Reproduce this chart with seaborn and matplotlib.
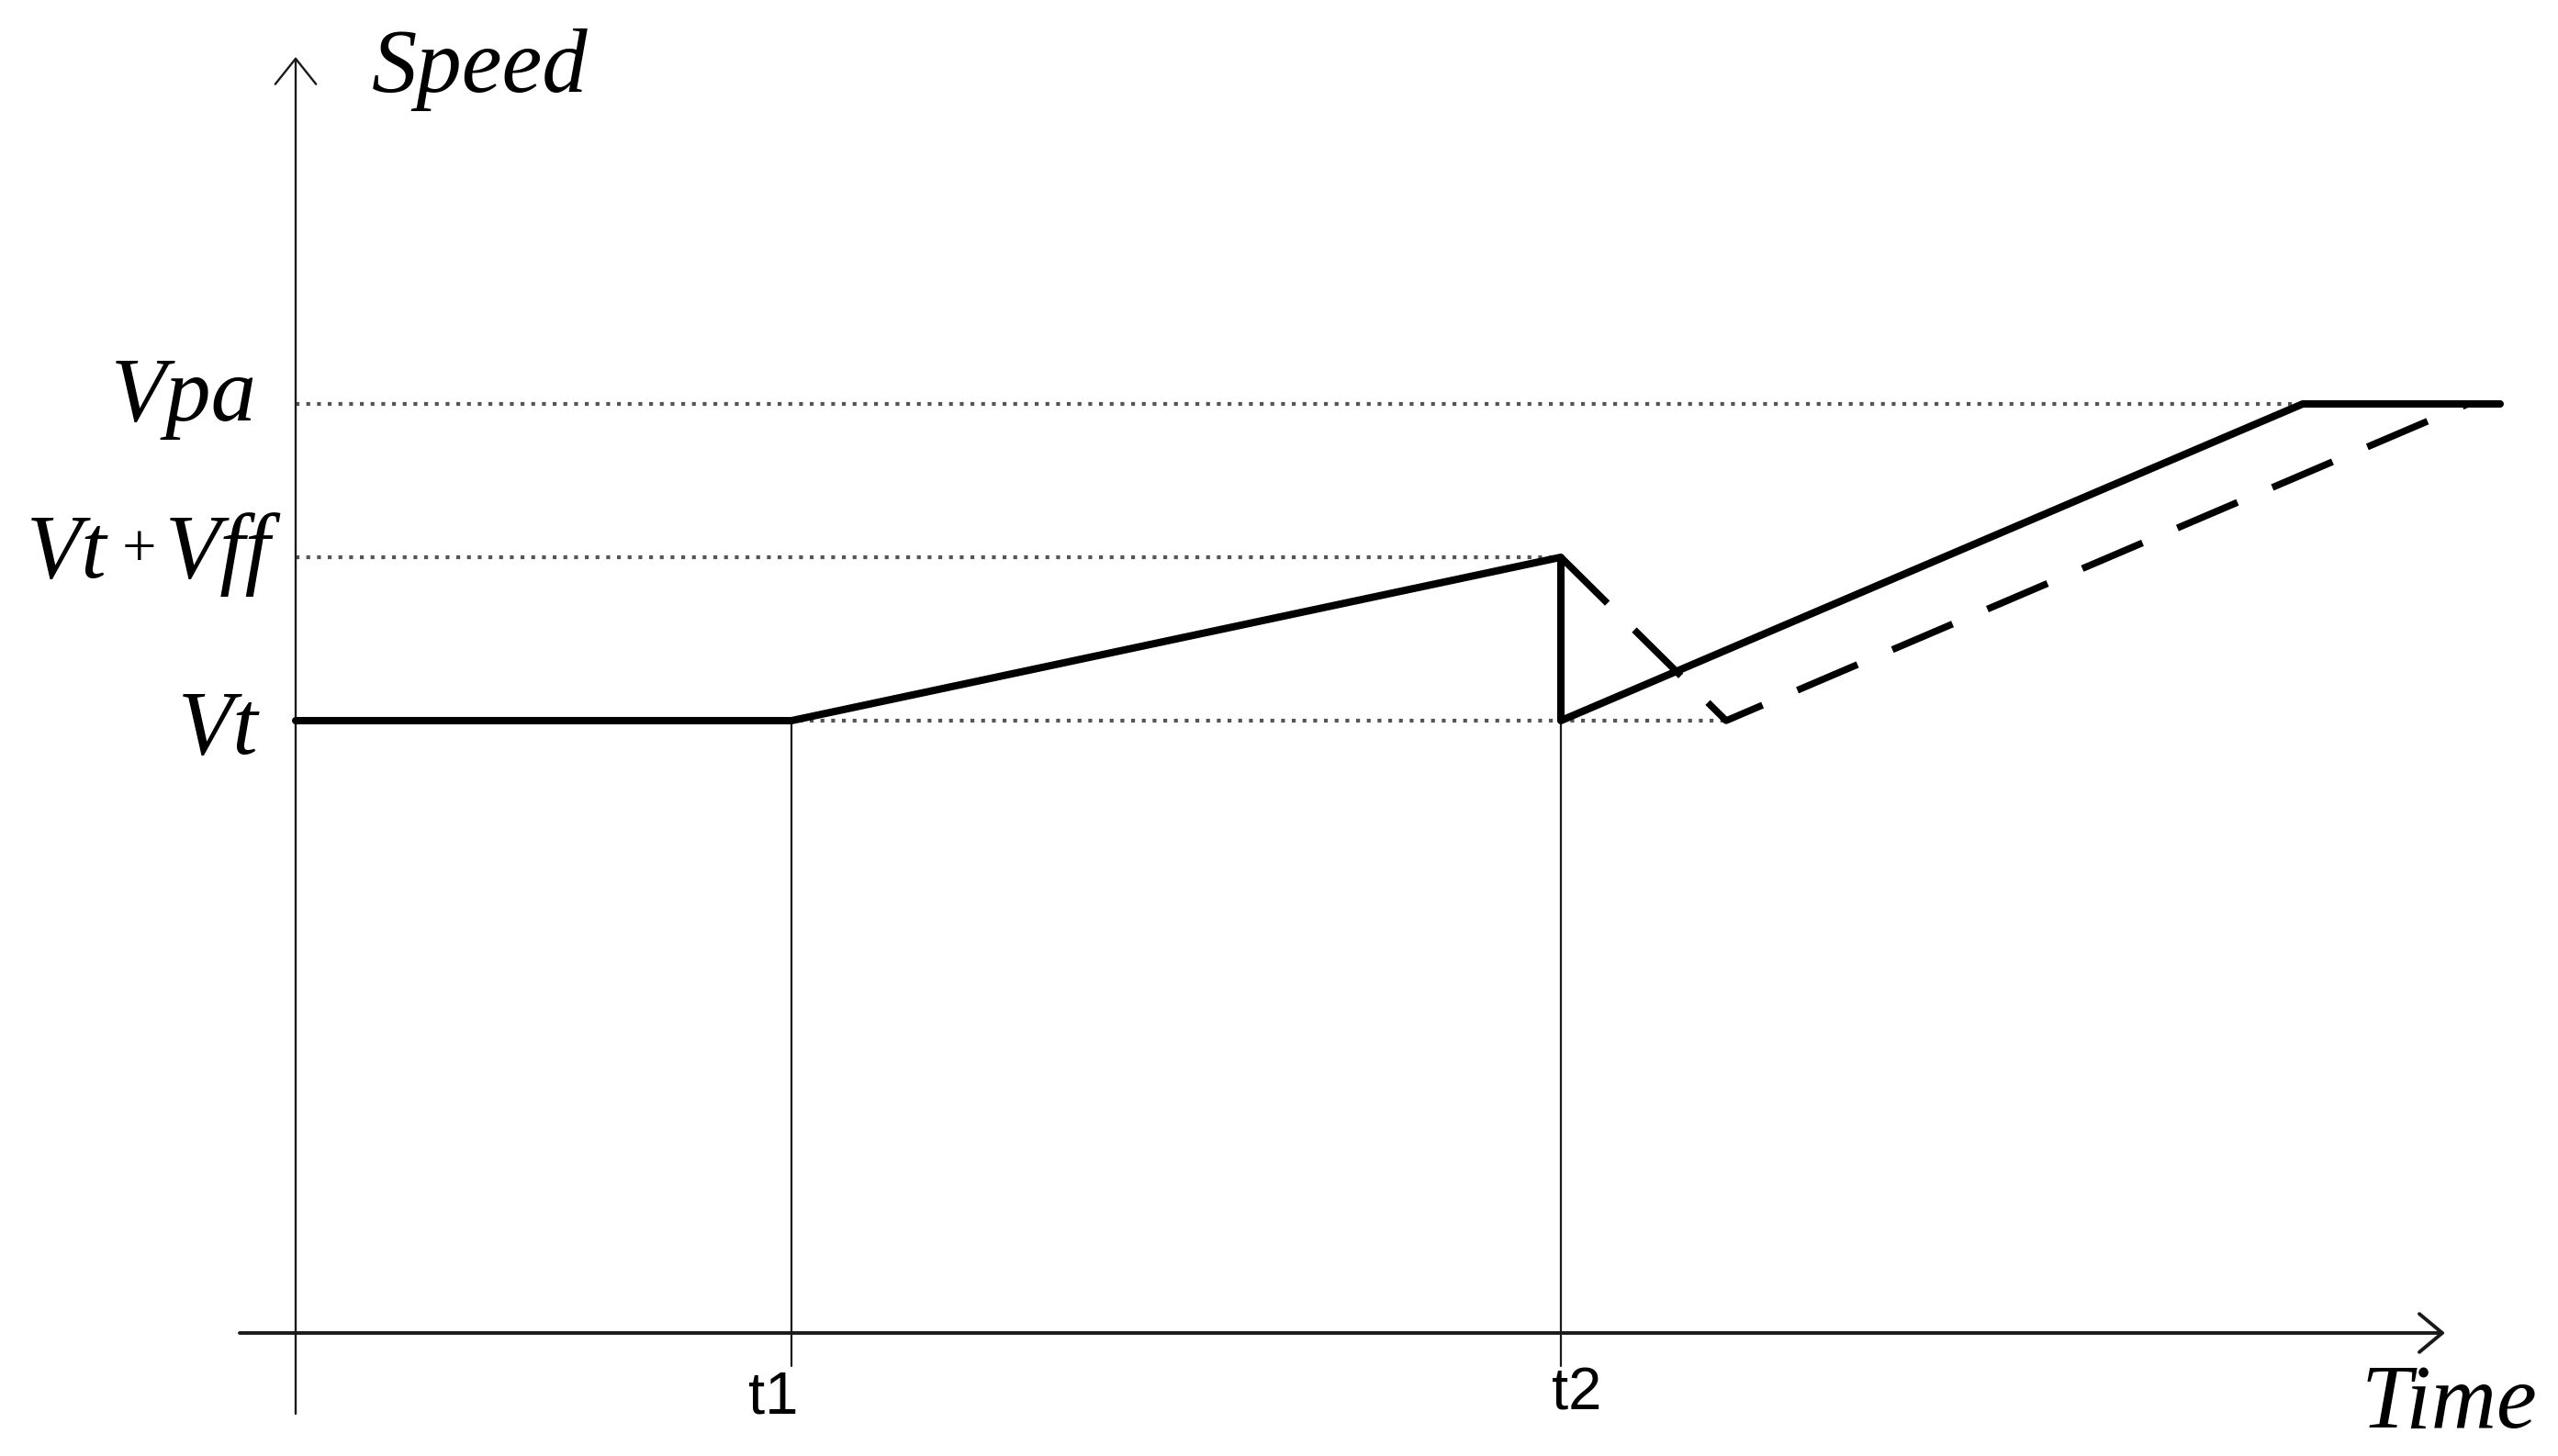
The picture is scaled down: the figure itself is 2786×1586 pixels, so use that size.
import numpy as np
import pandas as pd
import seaborn as sns
import matplotlib.pyplot as plt

sns.set_style('white')
plt.rcParams['font.family'] = ['Liberation Serif', 'DejaVu Serif']

# levels and instants (axis units, origin where the two axes cross)
v_t = 6.67
v_tff = 8.45
v_pa = 10.12
t1, t2 = 5.40, 13.78

# speed profiles
solid_time = [0.0, t1, t2, t2, 21.86, 24.01]
solid_speed = [v_t, v_t, v_tff, v_t, v_pa, v_pa]
dashed_time = [t2, 15.58, 23.66]
dashed_speed = [v_tff, v_t, v_pa]

level_labels = ['Vpa', 'Vt']
level_values = [v_pa, v_t]
time_labels = ['t1', 't2']
time_values = [t1, t2]

fig = plt.figure(figsize=(27.86, 15.86), dpi=100)
ax = fig.add_axes([0, 0, 1, 1])
ax.set_xlim(-3.22, 24.64)
ax.set_ylim(-1.34, 14.52)
ax.axis('off')

# dotted guide lines
dot = dict(color='#555555', lw=3.0, linestyle=(0, (1.0, 1.8)), zorder=1)
ax.plot([0, solid_time[4]], [v_pa, v_pa], **dot)
ax.plot([0, t2], [v_tff, v_tff], **dot)
ax.plot([0, dashed_time[1]], [v_t, v_t], **dot)

# thin verticals at t1, t2
for tv in time_values:
    ax.plot([tv, tv], [v_t, -0.36], color='#1a1a1a', lw=1.6, zorder=2)

# axes with open arrow heads
ax.annotate('', xy=(0, 13.90), xytext=(0, -0.88),
            arrowprops=dict(arrowstyle='->,head_length=0.5,head_width=0.4',
                            lw=1.7, color='#1a1a1a', mutation_scale=40,
                            shrinkA=0, shrinkB=0))
ax.annotate('', xy=(23.41, 0), xytext=(-0.61, 0),
            arrowprops=dict(arrowstyle='->,head_length=0.45,head_width=0.375',
                            lw=2.8, color='#1a1a1a', mutation_scale=40,
                            shrinkA=0, shrinkB=0))

# profiles
sns.lineplot(x=solid_time, y=solid_speed, sort=False, estimator=None,
             color='black', lw=5.8, ax=ax, zorder=4)
sns.lineplot(x=dashed_time, y=dashed_speed, sort=False, estimator=None,
             color='black', lw=5.4, linestyle=(0, (9.5, 5.5)), ax=ax, zorder=3)

# texts
lab = dict(fontsize=71, fontstyle='italic', color='black')
ax.text(0.83, 13.52, 'Speed', ha='left', va='baseline', **lab)
ax.text(22.50, -1.03, 'Time', ha='left', va='baseline', **lab)
ax.text(-0.42, 9.94, level_labels[0], ha='right', va='baseline', **lab)
ax.text(-0.41, 6.31, level_labels[1], ha='right', va='baseline', **lab)
ax.text(-2.93, 8.23, 'Vt', ha='left', va='baseline', **lab)
ax.text(-1.71, 8.51, '+', ha='center', va='center', fontsize=48, color='black')
ax.text(-1.42, 8.23, 'Vff', ha='left', va='baseline', **lab)

for name, tv, dy in zip(time_labels, time_values, [-0.88, -0.83]):
    ax.text(tv - 0.2 + (0.37 if name == 't2' else 0), dy, name, ha='center', va='baseline',
            fontsize=47, family=['Liberation Sans Narrow', 'Liberation Sans', 'DejaVu Sans'],
            color='black')

fig.savefig('out.png', dpi=100, facecolor='white')
